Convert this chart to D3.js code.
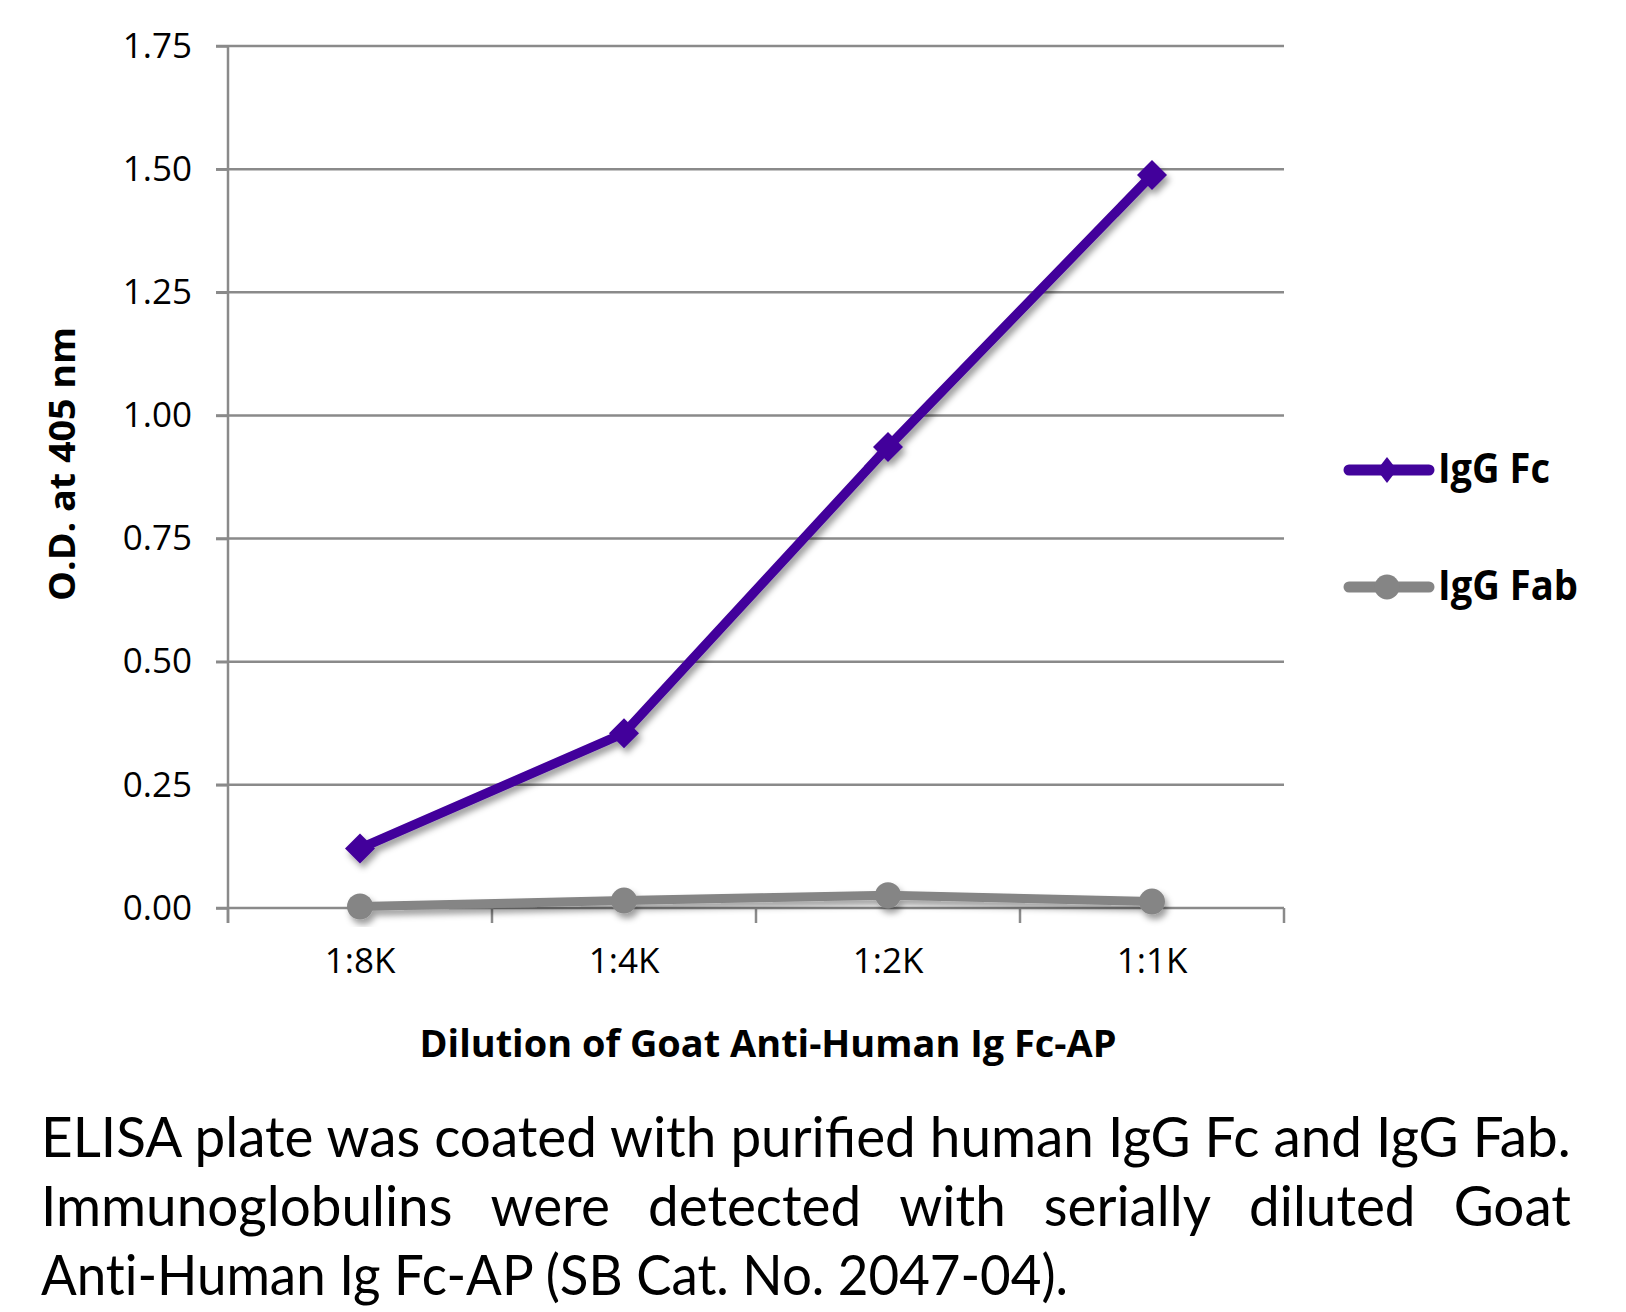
<!DOCTYPE html>
<html><head><meta charset="utf-8">
<script src="https://cdn.jsdelivr.net/npm/d3@7"></script>
<style>body{margin:0;background:#fff} svg{display:block}</style>
</head><body><svg id="c" width="1626" height="1312"></svg>
<script>
const categories = ["1:8K", "1:4K", "1:2K", "1:1K"];
const iggFc = [0.121, 0.355, 0.936, 1.488];
const iggFab = [0.003, 0.015, 0.026, 0.013];
const yTicks = [0, 0.25, 0.5, 0.75, 1.0, 1.25, 1.5, 1.75];
const seriesNames = ["IgG Fc", "IgG Fab"];
const yTitle = "O.D. at 405 nm";
const xTitle = "Dilution of Goat Anti-Human Ig Fc-AP";
const captionLines = [
  "ELISA plate was coated with purified human IgG Fc and IgG Fab.",
  "Immunoglobulins were detected with serially diluted Goat",
  "Anti-Human Ig Fc-AP (SB Cat. No. 2047-04)."
];

const FONT = "'Open Sans', 'Noto Sans', sans-serif";
const CAPFONT = "Lato, 'Open Sans', sans-serif";
const PURPLE = "#42049b", GREY = "#858585", GRID = "#8a8a8a";
const svg = d3.select("#c");
const L = 228, R = 1284, T = 46, B = 908;
const x = d3.scaleBand().domain(categories).range([L, R]);
const y = d3.scaleLinear().domain([0, 1.75]).range([B, T]);
const cx = c => x(c) + x.bandwidth() / 2;

const defs = svg.append("defs");
const f = defs.append("filter").attr("id", "sh").attr("x", "-20%").attr("y", "-20%").attr("width", "140%").attr("height", "140%");
f.append("feDropShadow").attr("dx", 3).attr("dy", 5).attr("stdDeviation", 3)
  .attr("flood-color", "#000").attr("flood-opacity", 0.38);

// gridlines
svg.append("g").selectAll("line").data(yTicks).join("line")
  .attr("x1", L - 12).attr("x2", R).attr("y1", d => y(d)).attr("y2", d => y(d))
  .attr("stroke", GRID).attr("stroke-width", 2.5);

// y axis
const ya = svg.append("g").attr("transform", `translate(${L},0)`)
  .call(d3.axisLeft(y).tickValues(yTicks).tickFormat(d3.format(".2f")).tickSize(12).tickPadding(24));
ya.select(".domain").remove();
ya.selectAll("line").attr("stroke", GRID).attr("stroke-width", 2.5);
ya.selectAll("text").attr("font-family", FONT).attr("font-size", 35).attr("fill", "#000");
svg.append("line").attr("x1", L).attr("x2", L).attr("y1", T).attr("y2", B + 15)
  .attr("stroke", GRID).attr("stroke-width", 2.5);

// x axis
const xa = svg.append("g").attr("transform", `translate(0,${B})`)
  .call(d3.axisBottom(x).tickSize(0).tickPadding(40));
xa.select(".domain").remove();
xa.selectAll("text").attr("font-family", FONT).attr("font-size", 35).attr("fill", "#000");
const bounds = categories.map(c => x(c) + x.bandwidth()).concat([x(categories[0])]);
svg.append("g").selectAll("line").data(bounds).join("line")
  .attr("x1", d => d).attr("x2", d => d).attr("y1", B).attr("y2", B + 15)
  .attr("stroke", GRID).attr("stroke-width", 2.5);

// titles
svg.append("text").attr("transform", "translate(75,464) rotate(-90)")
  .attr("text-anchor", "middle").attr("font-family", FONT).attr("font-weight", 700)
  .attr("font-size", 35).attr("textLength", 274).attr("lengthAdjust", "spacingAndGlyphs").text(yTitle);
svg.append("text").attr("x", 768).attr("y", 1057)
  .attr("text-anchor", "middle").attr("font-family", FONT).attr("font-weight", 700)
  .attr("font-size", 37).attr("textLength", 697).attr("lengthAdjust", "spacingAndGlyphs").text(xTitle);

// series
const line = d3.line().x((d, i) => cx(categories[i])).y(d => y(d));
const diamond = "M0,-15L15,0L0,15L-15,0Z";
const gFab = svg.append("g").attr("filter", "url(#sh)");
gFab.append("path").attr("d", line(iggFab)).attr("fill", "none").attr("stroke", GREY)
  .attr("stroke-width", 9).attr("stroke-linejoin", "round");
gFab.selectAll("circle").data(iggFab).join("circle")
  .attr("cx", (d, i) => cx(categories[i])).attr("cy", d => y(d)).attr("r", 13).attr("fill", GREY);
const gFc = svg.append("g").attr("filter", "url(#sh)");
gFc.append("path").attr("d", line(iggFc)).attr("fill", "none").attr("stroke", PURPLE)
  .attr("stroke-width", 9.5).attr("stroke-linejoin", "round");
gFc.selectAll("path.m").data(iggFc).join("path").attr("class", "m")
  .attr("transform", (d, i) => `translate(${cx(categories[i])},${y(d)})`)
  .attr("d", diamond).attr("fill", PURPLE);

// legend
const legY = [470, 587], legCol = [PURPLE, GREY], legW = [112, 140];
seriesNames.forEach((n, i) => {
  const g = svg.append("g");
  g.append("line").attr("x1", 1349).attr("x2", 1429).attr("y1", legY[i]).attr("y2", legY[i])
    .attr("stroke", legCol[i]).attr("stroke-width", 11).attr("stroke-linecap", "round");
  if (i === 0) g.append("path").attr("d", "M0,-13L10,0L0,13L-10,0Z")
    .attr("transform", `translate(1387,${legY[i]})`).attr("fill", PURPLE);
  else g.append("circle").attr("cx", 1387).attr("cy", legY[i]).attr("r", 12.5).attr("fill", GREY);
  g.append("text").attr("x", 1438).attr("y", legY[i] + 13).attr("font-family", FONT)
    .attr("font-weight", 700).attr("font-size", 41).attr("textLength", legW[i])
    .attr("lengthAdjust", "spacingAndGlyphs").text(n);
});

// caption
const capL = 41, capR = 1571, capY = [1157, 1226, 1295], capFS = 56, cap3W = 1027;
const cap = svg.append("g");
const t0 = cap.append("text").attr("font-family", CAPFONT).attr("font-size", capFS).text(captionLines[0]);
const k = (capR - capL) / t0.node().getComputedTextLength();
t0.remove();
const cg = cap.append("g").attr("transform", `translate(${capL},0) scale(${k},1)`);
const W = (capR - capL) / k;
captionLines.forEach((ln, i) => {
  if (i === 1) {
    const words = ln.split(" ");
    const ts = words.map(w => cg.append("text").attr("font-family", CAPFONT).attr("font-size", capFS)
      .attr("y", capY[i]).text(w));
    const ws = ts.map(t => t.node().getComputedTextLength());
    const gap = (W - d3.sum(ws)) / (words.length - 1);
    let px = 0;
    ts.forEach((t, j) => { t.attr("x", px); px += ws[j] + gap; });
  } else {
    const t = cg.append("text").attr("x", 0).attr("y", capY[i]).attr("font-family", CAPFONT)
      .attr("font-size", capFS).text(ln);
    if (i === 2) t.style("font-variant-ligatures", "none")
      .attr("textLength", cap3W / k).attr("lengthAdjust", "spacingAndGlyphs");
  }
});
</script></body></html>
